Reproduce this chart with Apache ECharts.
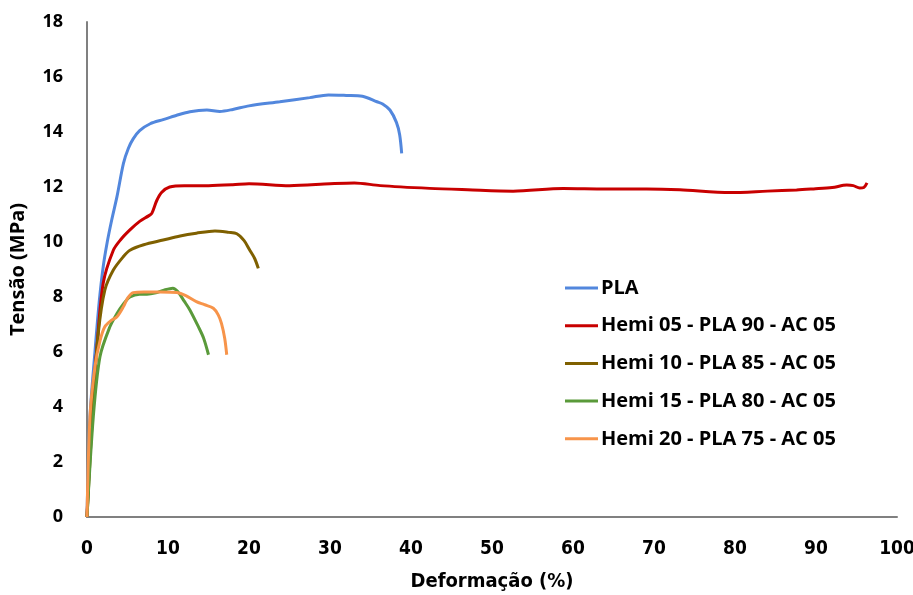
<!DOCTYPE html>
<html><head><meta charset="utf-8">
<script src="https://cdn.jsdelivr.net/npm/echarts@6/dist/echarts.min.js"></script>
<style>html,body{margin:0;padding:0;background:#fff}#c{width:913px;height:595px}</style>
</head><body><div id="c"></div>
<script>
var seriesNames = ['PLA','Hemi 05 - PLA 90 - AC 05','Hemi 10 - PLA 85 - AC 05','Hemi 15 - PLA 80 - AC 05','Hemi 20 - PLA 75 - AC 05'];
var plaData = [[0,0],[0.37,3.65],[1.0,6.07],[1.5,7.8],[2.0,9.1],[2.5,10.0],[3.05,10.8],[3.7,11.65],[4.5,12.86],[5.1,13.4],[5.7,13.75],[6.5,14.05],[7.8,14.3],[9.4,14.45],[11,14.6],[12.7,14.74],[14.8,14.8],[16.4,14.75],[18,14.82],[20,14.95],[23.8,15.1],[27.5,15.25],[29.8,15.35],[32,15.33],[34,15.3],[35.8,15.1],[36.5,15.02],[37.4,14.8],[38.2,14.35],[38.6,13.9],[38.85,13.22]];
var hemi05Data = [[0,0],[0.58,3.65],[1.2,6.07],[2.0,8.5],[3.25,9.7],[4.2,10.1],[5.3,10.44],[6.5,10.75],[7.6,10.95],[8.0,11.04],[8.6,11.5],[9.2,11.8],[10.2,12.0],[12,12.05],[15,12.05],[18,12.08],[20,12.12],[25,12.05],[30,12.12],[33,12.15],[36.2,12.05],[42.3,11.95],[47,11.9],[52.6,11.85],[58.8,11.95],[64,11.93],[69.1,11.93],[73.2,11.9],[79.4,11.8],[84,11.85],[87.6,11.89],[89.7,11.93],[92,11.98],[93.8,12.07],[94.6,12.05],[95.4,11.96],[95.9,11.98],[96.3,12.15]];
var hemi10Data = [[0,0],[0.78,4.25],[1.4,6.7],[2.2,8.25],[3.25,8.98],[4.5,9.47],[5.3,9.7],[7,9.9],[9.4,10.07],[11.5,10.22],[13.5,10.32],[15.8,10.4],[17.5,10.35],[18.5,10.3],[19.4,10.05],[20.1,9.7],[20.7,9.4],[21.15,9.04]];
var hemi15Data = [[0,0],[0.78,3.65],[1.6,5.83],[2.8,6.9],[3.7,7.4],[4.5,7.75],[5.3,8.0],[6.5,8.1],[7.4,8.1],[8.5,8.15],[9.5,8.25],[10.6,8.32],[11.2,8.2],[12.0,7.85],[12.7,7.53],[13.75,6.92],[14.4,6.5],[15.0,5.9]];
var hemi20Data = [[0,0],[0.37,3.65],[1.0,5.5],[1.6,6.4],[2.2,6.92],[3.0,7.15],[3.7,7.28],[4.5,7.65],[5.0,7.95],[5.7,8.16],[7,8.18],[9,8.18],[11.1,8.16],[12.2,8.05],[13.5,7.83],[14.5,7.72],[15.6,7.59],[16.2,7.35],[16.6,7.04],[17.0,6.5],[17.25,5.9]];
var colors = ['#5287DD','#C80000','#7F6000','#5A9A3A','#F7944A'];
var allData = [plaData, hemi05Data, hemi10Data, hemi15Data, hemi20Data];

var chart = echarts.init(document.getElementById('c'));
var narrowFam = 'DejaVu Sans Condensed, Liberation Sans Narrow, sans-serif';
chart.setOption({
  animation:false,
  color: colors,
  grid:{left:87, right:16, top:22, bottom:78, containLabel:false, outerBoundsMode:'none'},
  legend:{
    orient:'vertical', left:565, top:278, itemGap:17.7, itemWidth:33, itemHeight:3,
    icon:'rect', padding:0,
    textStyle:{fontFamily:'Open Sans', fontWeight:'bold', fontSize:20, lineHeight:20, color:'#000', padding:[0,0,0,-2]},
    data: seriesNames
  },
  xAxis:{
    type:'value', min:0, max:100, interval:10,
    name:'Deformação (%)', nameLocation:'middle', nameGap:55,
    nameTextStyle:{fontFamily:narrowFam, fontWeight:'bold', fontSize:20, color:'#000'},
    axisLine:{show:true, lineStyle:{color:'#808080', width:2}},
    axisTick:{show:false}, splitLine:{show:false},
    axisLabel:{margin:23, fontFamily:narrowFam, fontWeight:'bold', fontSize:19, color:'#000'}
  },
  yAxis:{
    type:'value', min:0, max:18, interval:2,
    name:'Tensão (MPa)', nameLocation:'middle', nameGap:59, nameRotate:90,
    nameTextStyle:{fontFamily:'Open Sans', fontWeight:'bold', fontSize:20, color:'#000'},
    axisLine:{show:true, lineStyle:{color:'#808080', width:2}},
    axisTick:{show:false}, splitLine:{show:false},
    axisLabel:{margin:24, fontFamily:'Open Sans', fontWeight:'bold', fontSize:18, color:'#000'}
  },
  series: seriesNames.map(function(n,i){
    return {name:n, type:'line', data:allData[i], showSymbol:false, smooth:0.3,
      lineStyle:{width:3, color:colors[i]}, itemStyle:{color:colors[i]}};
  })
});
</script></body></html>
